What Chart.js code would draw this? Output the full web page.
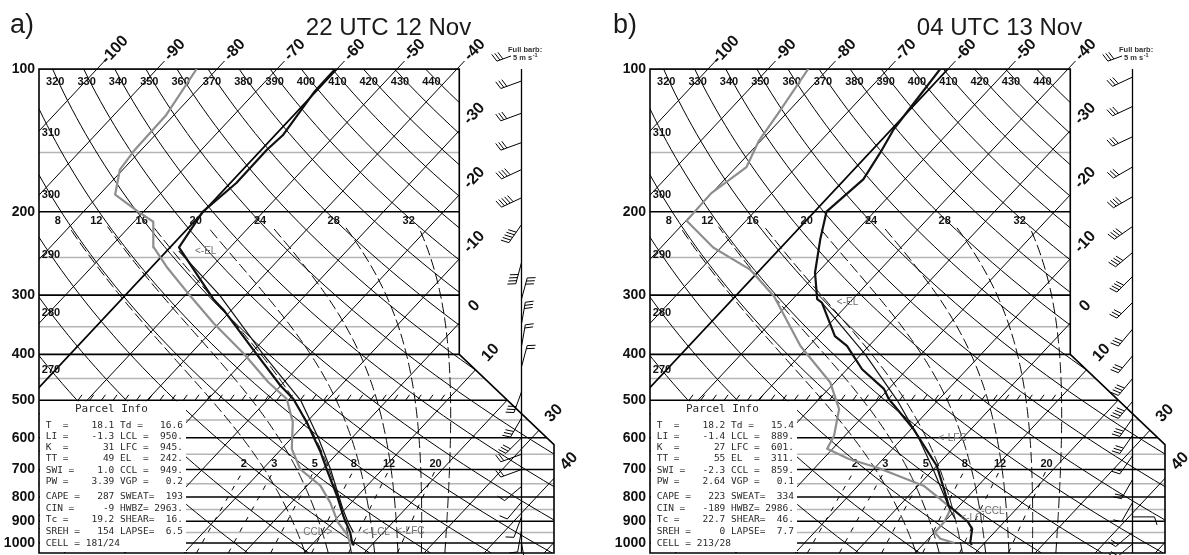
<!DOCTYPE html>
<html><head><meta charset="utf-8">
<script src="https://cdn.jsdelivr.net/npm/chart.js@4.4.1/dist/chart.umd.min.js"></script>
<style>
html,body{margin:0;padding:0;background:#fff;}
#wrap{position:relative;width:1189px;height:555px;overflow:hidden;background:#fff;}
canvas{position:absolute;top:0;}
#ca{left:0;width:605px;height:555px;}
#cb{left:611px;width:578px;height:555px;}
</style></head><body>
<div id="wrap"><canvas id="ca" width="605" height="555"></canvas><canvas id="cb" width="578" height="555"></canvas></div>
<script>
// ================= DATA =================
const PRESSURE_TICKS=[100,200,300,400,500,600,700,800,900,1000];
const GRAY_ISOBARS=[150,250,350,450,550,650,750,850,950];
const ISOTHERMS=[-110,-100,-90,-80,-70,-60,-50,-40,-30,-20,-10,0,10,20,30,40,50];
const ISOTHERM_TOP_LABELS=[-100,-90,-80,-70,-60,-50,-40];
const ISOTHERM_SIDE_LABELS=[-30,-20,-10,0,10,30,40];
const DRY_ADIABATS=[230,240,250,260,270,280,290,300,310,320,330,340,350,360,370,380,390,400,410,420,430,440];
const THETA_TOP_LABELS=[320,330,340,350,360,370,380,390,400,410,420,430,440];
const THETA_SIDE_LABELS=[310,300,290,280,270];
const MOIST_ADIABATS=[8,12,16,20,24,28,32];
const MIXING_RATIOS=[2,3,5,8,12,20];

// ---- panel a : 22 UTC 12 Nov ----
const titleA='22 UTC 12 Nov';
const tempA_p=[1012,996,951,878,796,699,643,557,497,466,391,322,306,238,200,174,148,138,112,100];
const tempA_T=[17.1,16.3,14.5,10.8,6.6,0.7,-3.0,-9.9,-15.8,-20.0,-30.2,-41.4,-44.7,-58.5,-60.1,-59.0,-59.1,-58.7,-60.2,-60.3];
const dewA_p=[1012,964,902,822,757,699,633,556,497,458,399,344,301,263,238,210,200,184,163,148,125,100];
const dewA_T=[16.6,14.5,10.7,6.5,2.2,-3.7,-8.3,-12.3,-16.9,-22.6,-31.1,-40.9,-49.1,-57.2,-62.7,-66.8,-70.9,-77.4,-80.5,-81.1,-81.3,-83.4];
const parcelA_p=[950,900,850,800,700,600,500,400,300,242];
const parcelA_T=[15.0,12.3,9.7,7.1,1.4,-5.6,-14.4,-27.8,-44.3,-58.0];
const windA_p=[106,124,143,163,187,213,256,306,345,385,425,480,545,600,650,700,760,820,880,940,1000];
const windA_dir=[250,250,250,245,245,215,195,15,10,10,15,200,210,225,250,250,230,220,200,190,170];
const windA_spd=[15,15,15,20,25,25,20,15,15,10,10,15,15,15,10,10,5,5,5,5,10];
const infoA=["T  =    18.1 Td =   16.6","LI =    -1.3 LCL =  950.","K  =      31 LFC =  945.","TT =      49 EL  =  242.","SWI =    1.0 CCL =  949.","PW =    3.39 VGP =   0.2","CAPE =   287 SWEAT=  193","CIN =     -9 HWBZ= 2963.","Tc =    19.2 SHEAR=  16.","SREH =   154 LAPSE=  6.5","CELL = 181/24"];
const annoA_text=['<-EL','CCL->','<-LCL','<-LFC'];
const annoA_p=[242,950,950,945];
const annoA_T=[-55.3,11.5,16.5,22.0];
const annoA_align=['left','right','left','left'];

// ---- panel b : 04 UTC 13 Nov ----
const titleB='04 UTC 13 Nov';
const tempB_p=[1010,996,934,902,834,769,688,575,497,473,430,384,366,311,306,269,229,200,171,150,134,100];
const tempB_T=[18.2,17.5,15.75,13.9,8.2,4.8,0.05,-9.6,-18.4,-20.8,-27.5,-33.65,-37.2,-44.6,-45.9,-50.4,-54.7,-58.0,-56.9,-58.25,-59.65,-61.3];
const dewB_p=[1000,980,951,902,845,808,757,693,665,633,594,522,458,384,302,265,238,209,183,161,142,124,100];
const dewB_T=[15.0,12.0,10.1,10.0,9.0,5.8,0.9,-9.7,-15.7,-20.9,-21.8,-25.1,-30.8,-41.4,-53.5,-61.7,-71.3,-79.9,-80.1,-78.3,-80.3,-81.4,-83.3];
const parcelB_p=[889,850,800,700,601,500,400,311];
const parcelB_T=[11.3,9.0,6.2,0.0,-7.3,-16.8,-29.3,-44.6];
const windB_p=[104,120,139,161,186,215,244,274,311,354,403,450,503,546,593,655,735,822,881,950,1005];
const windB_dir=[245,245,245,240,240,235,230,225,225,220,220,220,220,215,215,215,210,210,90,230,230];
const windB_spd=[15,15,15,15,20,20,20,20,15,15,15,20,20,15,15,10,10,5,5,10,10];
const infoB=["T  =    18.2 Td =   15.4","LI =    -1.4 LCL =  889.","K  =      27 LFC =  601.","TT =      55 EL  =  311.","SWI =   -2.3 CCL =  859.","PW =    2.64 VGP =   0.1","CAPE =   223 SWEAT=  334","CIN =   -189 HWBZ= 2986.","Tc =    22.7 SHEAR=  46.","SREH =     0 LAPSE=  7.7","CELL = 213/28"];
const annoB_text=['<-EL','<-LFC','<-CCL','<-LCL'];
const annoB_p=[311,601,859,889];
const annoB_T=[-42.1,-4.0,13.6,12.2];
const annoB_align=['left','left','left','left'];

// ================= GEOMETRY / PHYSICS =================
const K_SKEW=32.1, X_MIN=-109.667, X_MAX=-23.833, X_UR=-39.62, P_TOP=100, P_BOT=1050, P_NOTCH=400, P_SLANT=620;
const skewX=(T,p)=>T-K_SKEW*Math.log(p/100);
const esat=Tc=>6.112*Math.exp(17.67*Tc/(Tc+243.5));
function lapse(T,p){const Rd=287.04,Cp=1005.7,Lv=2.501e6,eps=0.622;const es=esat(T-273.15);const rs=eps*es/(p-es);return (Rd*T+Lv*rs)/(Cp+Lv*Lv*rs*eps/(Rd*T*T))/p;}
function rk(T,p,h){const k1=lapse(T,p),k2=lapse(T+h*k1/2,p+h/2),k3=lapse(T+h*k2/2,p+h/2),k4=lapse(T+h*k3,p+h);return T+h*(k1+2*k2+2*k3+k4)/6;}
function moistPath(tw,pTop){let T=tw+273.15,p=1000;const low=[];while(p<P_BOT){T=rk(T,p,5);p+=5;low.push([T-273.15,p]);}
 T=tw+273.15;p=1000;const high=[[T-273.15,p]];while(p>pTop+1e-6){const h=Math.max(-4,pTop-p);T=rk(T,p,h);p+=h;high.push([T-273.15,p]);}
 return low.reverse().concat(high);}
function dewFromMix(w,p){const e=w*p/(622+w);const L=Math.log(e/6.112);return 243.5*L/(17.67-L);}
function strokePts(ctx,pts){ctx.beginPath();pts.forEach((q,i)=>i?ctx.lineTo(q[0],q[1]):ctx.moveTo(q[0],q[1]));ctx.stroke();}
function rotText(ctx,t,x,y,a){ctx.save();ctx.translate(x,y);ctx.rotate(a);ctx.fillText(t,0,0);ctx.restore();}

function drawBarb(ctx,x,y,dir,spd,len){
  const r=dir*Math.PI/180, ux=Math.sin(r), uy=-Math.cos(r), fx=-uy, fy=ux;
  const tx=x+ux*len, ty=y+uy*len, FL=8, GAP=3.2;
  ctx.beginPath();ctx.moveTo(x,y);ctx.lineTo(tx,ty);
  const full=Math.floor(spd/5), half=(spd%5)>=2.5?1:0; let k=0;
  for(let i=0;i<full;i++,k++){const bx=tx-ux*GAP*k,by=ty-uy*GAP*k;ctx.moveTo(bx,by);ctx.lineTo(bx+fx*FL+ux*2.5,by+fy*FL+uy*2.5);}
  if(half){if(k===0)k=1;const bx=tx-ux*GAP*k,by=ty-uy*GAP*k;ctx.moveTo(bx,by);ctx.lineTo(bx+fx*FL/2+ux*1.2,by+fy*FL/2+uy*1.2);}
  ctx.stroke();
}

function diagramPlugin(cfg){
 const geom=chart=>{const ca=chart.chartArea,xs=chart.scales.x,ys=chart.scales.y;
   const xR1=xs.getPixelForValue(X_UR),y400=ys.getPixelForValue(P_NOTCH),y620=ys.getPixelForValue(P_SLANT);
   return {ca,xs,ys,xR1,y400,y620,poly:[[ca.left,ca.top],[xR1,ca.top],[xR1,y400],[ca.right,y620],[ca.right,ca.bottom],[ca.left,ca.bottom]]};};
 return {
  id:'skewt',
  beforeDatasetsDraw(chart){
   const ctx=chart.ctx,G=geom(chart),ca=G.ca,xs=G.xs,ys=G.ys;
   const PY=p=>ys.getPixelForValue(p), PX=(T,p)=>xs.getPixelForValue(skewX(T,p));
   const polyPath=()=>{ctx.beginPath();G.poly.forEach((q,i)=>i?ctx.lineTo(q[0],q[1]):ctx.moveTo(q[0],q[1]));ctx.closePath();};
   ctx.save();polyPath();ctx.clip();
   ctx.strokeStyle='#b5b5b5';ctx.lineWidth=1.5;
   GRAY_ISOBARS.forEach(p=>strokePts(ctx,[[ca.left,PY(p)],[ca.right,PY(p)]]));
   ctx.strokeStyle='#000';ctx.lineWidth=1.6;
   PRESSURE_TICKS.forEach(p=>strokePts(ctx,[[ca.left,PY(p)],[ca.right,PY(p)]]));
   ISOTHERMS.forEach(T=>{ctx.lineWidth=(T===-60)?1.8:1;strokePts(ctx,[[PX(T,P_TOP),PY(P_TOP)],[PX(T,P_BOT),PY(P_BOT)]]);});
   ctx.lineWidth=1;
   DRY_ADIABATS.forEach(th=>{const pts=[];for(let i=0;i<=60;i++){const p=P_TOP*Math.pow(P_BOT/P_TOP,i/60);pts.push([PX(th*Math.pow(p/1000,0.2857)-273.15,p),PY(p)]);}strokePts(ctx,pts);});
   const yML=PY(200)+9, pML=ys.getValueForPixel(yML), pMTop=ys.getValueForPixel(PY(200)+15);
   ctx.setLineDash([11,4]);
   MOIST_ADIABATS.forEach(tw=>strokePts(ctx,moistPath(tw,pMTop).map(([T,p])=>[PX(T,p),PY(p)])));
   ctx.setLineDash([5,7]);
   MIXING_RATIOS.forEach(w=>{const pts=[];for(let i=0;i<=10;i++){const p=P_BOT-35*i;pts.push([PX(dewFromMix(w,p),p),PY(p)]);}strokePts(ctx,pts);});
   ctx.setLineDash([]);
   // hatching along 500 hPa
   const y5=PY(500);ctx.beginPath();
   for(let x=ca.left+39;x<=ca.left+402;x+=11.7){ctx.moveTo(x,y5);ctx.lineTo(x+4,y5-5.5);}
   ctx.stroke();
   ctx.restore();
   // parcel info box
   ctx.fillStyle='#fff';ctx.fillRect(ca.left+1,y5+1,146,ca.bottom-y5-2);
   // border
   ctx.save();ctx.strokeStyle='#000';ctx.lineWidth=1.6;polyPath();ctx.stroke();
   // isotherm extension ticks + labels
   const slope=(PX(0,P_TOP)-PX(0,P_BOT))/(PY(P_BOT)-PY(P_TOP));
   const ang=-Math.atan2(1,slope);
   ctx.lineWidth=1;ctx.fillStyle='#111';
   ctx.font="bold 16px 'Liberation Sans', Arial, sans-serif";ctx.textAlign='center';ctx.textBaseline='middle';
   ISOTHERM_TOP_LABELS.forEach(T=>{const x0=PX(T,P_TOP),y0=ca.top;strokePts(ctx,[[x0,y0],[x0+slope*8,y0-8]]);rotText(ctx,String(T),x0+slope*19,y0-19,ang);});
   const xb=y=>y<=G.y400?G.xR1:(y<=G.y620?G.xR1+(ca.right-G.xR1)*(y-G.y400)/(G.y620-G.y400):ca.right);
   ISOTHERM_SIDE_LABELS.forEach(T=>{const xi=y=>PX(T,ys.getValueForPixel(y));let lo=ca.top,hi=ca.bottom;
     if(xi(lo)<xb(lo))return;for(let i=0;i<50;i++){const m=(lo+hi)/2;if(xi(m)>xb(m))lo=m;else hi=m;}
     rotText(ctx,String(T),xb(lo)+15,lo-17,ang);});
   // theta labels
   ctx.font="bold 11px 'Liberation Sans', Arial, sans-serif";
   const p6=ys.getValueForPixel(ca.top+6);
   THETA_TOP_LABELS.forEach(th=>{ctx.fillText(String(th),PX(th*Math.pow(p6/1000,0.2857)-273.15,p6),ca.top+12.5);});
   THETA_SIDE_LABELS.forEach(th=>{const g=p=>PX(th*Math.pow(p/1000,0.2857)-273.15,p)-(ca.left+12);let lo=P_TOP,hi=P_BOT;
     for(let i=0;i<50;i++){const m=Math.sqrt(lo*hi);if(g(m)<0)lo=m;else hi=m;}ctx.fillText(String(th),ca.left+12,PY(lo));});
   MOIST_ADIABATS.forEach(tw=>{const path=moistPath(tw,pML);const T=path[path.length-1][0];ctx.fillText(String(tw),PX(T,pML)-7,yML);});
   MIXING_RATIOS.forEach(w=>{ctx.fillText(String(w),PX(dewFromMix(w,700),700),PY(700)-6);});
   // parcel info text
   ctx.fillStyle='#2a2a2a';ctx.textAlign='left';
   ctx.font="11px 'DejaVu Sans Mono', monospace";ctx.fillText('Parcel Info',ca.left+36,y5+9);
   ctx.font="9.5px 'DejaVu Sans Mono', monospace";
   cfg.info.forEach((s,i)=>{const y=i<6?y5+25+i*11.2:y5+96+(i-6)*11.75;ctx.fillText(s,ca.left+6.7,y);});
   // titles
   ctx.fillStyle='#1a1a1a';ctx.textBaseline='alphabetic';
   ctx.font="27px 'Liberation Sans', Arial, sans-serif";ctx.fillText(cfg.tag,cfg.tagX,33);
   ctx.font="24px 'Liberation Sans', Arial, sans-serif";ctx.textAlign='center';ctx.fillText(cfg.title,ca.left+349.5,35);
   ctx.restore();
  },
  afterDatasetsDraw(chart){
   const ctx=chart.ctx,G=geom(chart),ca=G.ca,xs=G.xs,ys=G.ys;
   const PY=p=>ys.getPixelForValue(p), PX=(T,p)=>xs.getPixelForValue(skewX(T,p));
   ctx.save();
   // annotations
   ctx.fillStyle='#707070';ctx.font="10px 'Liberation Sans', Arial, sans-serif";ctx.textBaseline='middle';
   cfg.annoText.forEach((t,i)=>{ctx.textAlign=cfg.annoAlign[i];ctx.fillText(t,PX(cfg.annoT[i],cfg.annoP[i]),PY(cfg.annoP[i]));});
   // wind staff + barbs
   const sx=ca.left+482.5;
   ctx.strokeStyle='#000';ctx.lineWidth=1.3;strokePts(ctx,[[sx,ca.top],[sx,ca.bottom]]);
   ctx.lineWidth=1;
   cfg.windP.forEach((p,i)=>drawBarb(ctx,sx,PY(p),cfg.windDir[i],cfg.windSpd[i],22));
   // legend
   drawBarb(ctx,ca.left+472,56,250,15,15);
   ctx.fillStyle='#333';ctx.textAlign='left';ctx.textBaseline='alphabetic';
   ctx.font="bold 7.5px 'Liberation Sans', Arial, sans-serif";
   ctx.fillText('Full barb:',ca.left+469,52);
   ctx.fillText('5 m s',ca.left+474,60);
   const w=ctx.measureText('5 m s').width;
   ctx.font="bold 5.5px 'Liberation Sans', Arial, sans-serif";ctx.fillText('-1',ca.left+474+w+0.5,56.5);
   ctx.restore();
  }
 };
}

function buildPanel(id,cfg){
  const canvas=document.getElementById(id);
  const mk=(P,T)=>P.map((p,i)=>({x:skewX(T[i],p),y:p}));
  const base={showLine:true,pointRadius:0,pointHoverRadius:0,fill:false,tension:0,borderJoinStyle:'round'};
  const datasets=[
    Object.assign({label:'Temperature',data:mk(cfg.tP,cfg.tT),borderColor:'#111',borderWidth:2.2},base),
    Object.assign({label:'Parcel',data:mk(cfg.pP,cfg.pT),borderColor:'#111',borderWidth:1.2},base),
    Object.assign({label:'Dewpoint',data:mk(cfg.dP,cfg.dT),borderColor:'#8e8e8e',borderWidth:2.2},base)
  ];
  new Chart(canvas,{type:'scatter',data:{datasets},
    options:{responsive:false,animation:false,devicePixelRatio:1,
      layout:{padding:{top:69,bottom:2,left:0,right:canvas.width-554}},
      plugins:{legend:{display:false},tooltip:{enabled:false},title:{display:false}},
      scales:{
        x:{type:'linear',min:X_MIN,max:X_MAX,bounds:'data',display:false},
        y:{type:'logarithmic',min:P_TOP,max:P_BOT,bounds:'data',reverse:true,position:'left',
           afterFit:s=>{s.width=39;s.paddingTop=0;s.paddingBottom=0;},
           afterBuildTicks:s=>{s.ticks=PRESSURE_TICKS.map(v=>({value:v}));},
           ticks:{autoSkip:false,padding:4,color:'#111',font:{family:"'Liberation Sans', Arial, sans-serif",size:14,weight:'bold'},callback:v=>String(v)},
           grid:{display:false,drawTicks:false},border:{display:false}}
      }},
    plugins:[diagramPlugin(cfg)]});
}

buildPanel('ca',{title:titleA,tag:'a)',tagX:10,tP:tempA_p,tT:tempA_T,dP:dewA_p,dT:dewA_T,pP:parcelA_p,pT:parcelA_T,
  windP:windA_p,windDir:windA_dir,windSpd:windA_spd,info:infoA,annoText:annoA_text,annoP:annoA_p,annoT:annoA_T,annoAlign:annoA_align});
buildPanel('cb',{title:titleB,tag:'b)',tagX:2,tP:tempB_p,tT:tempB_T,dP:dewB_p,dT:dewB_T,pP:parcelB_p,pT:parcelB_T,
  windP:windB_p,windDir:windB_dir,windSpd:windB_spd,info:infoB,annoText:annoB_text,annoP:annoB_p,annoT:annoB_T,annoAlign:annoB_align});
</script></body></html>
